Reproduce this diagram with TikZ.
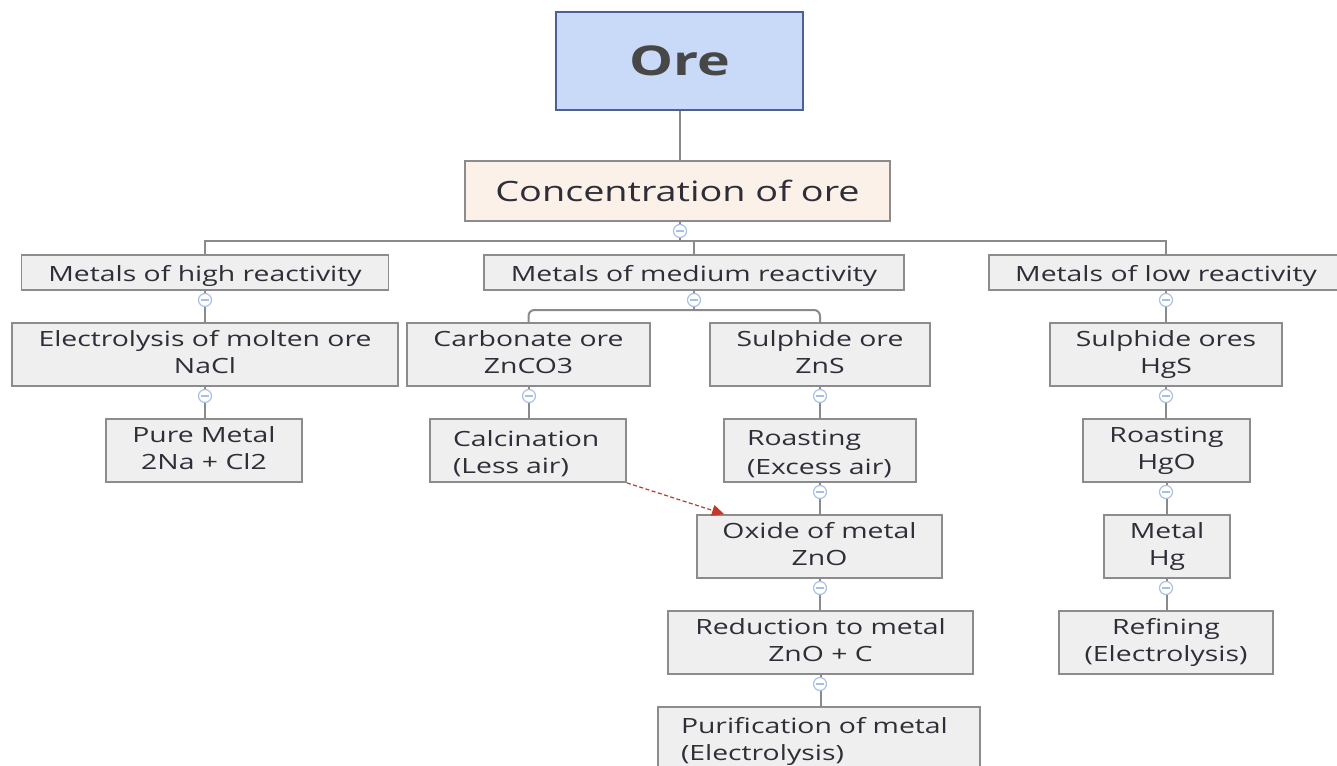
\documentclass[tikz,border=0pt]{standalone}
\usepackage{fontspec}
\setmainfont{Open Sans}[FakeStretch=1.35]
\usetikzlibrary{arrows.meta}
\definecolor{boxfill}{HTML}{EFEFEF}
\definecolor{boxdraw}{HTML}{8C8C8C}
\definecolor{orefill}{HTML}{C9DAF8}
\definecolor{oredraw}{HTML}{4F5F8F}
\definecolor{concfill}{HTML}{FCF1E8}
\definecolor{lin}{HTML}{8A8A8A}
\definecolor{togc}{HTML}{A9BFE6}
\definecolor{txt}{HTML}{2E2E38}
\definecolor{arr}{HTML}{C0392B}
\newcommand{\mylstrut}{\rule[-4pt]{0pt}{27pt}}
\newcommand{\twolines}[2]{\raisebox{-2pt}{\begin{tabular}{@{}c@{}}#1\\#2\end{tabular}}}
\begin{document}
\begin{tikzpicture}[x=1pt,y=-1pt,
 base/.style={draw=boxdraw, fill=boxfill, line width=1.8pt, inner sep=0pt, text=txt,
   font=\fontsize{21}{27}\selectfont},
 box/.style={base, minimum height=63pt},
 sbox/.style={base, minimum height=35pt, execute at begin node=\mylstrut, execute at end node=\mylstrut},
 lbox/.style={base, minimum height=63pt, align=left, inner xsep=23pt, execute at begin node=\mylstrut, execute at end node=\mylstrut},
 conn/.style={draw=lin, line width=2pt},
 toggle/.style={circle, draw=togc, fill=white, line width=1.2pt, minimum size=13pt, inner sep=0pt,
   path picture={\draw[togc, line width=1.2pt] ([xshift=-4pt]path picture bounding box.center) -- ([xshift=4pt]path picture bounding box.center);}}]
\useasboundingbox (0,0) rectangle (1337,765);
\clip (0,0) rectangle (1337,765);
% nodes
\node[draw=oredraw, fill=orefill, line width=1.8pt, minimum width=247pt, minimum height=98pt, text=black!72, font=\fontsize{41}{44}\selectfont\bfseries] (ore) at (679.5,61) {\raisebox{-2pt}{Ore}};
\node[base, fill=concfill, minimum width=425pt, minimum height=60pt, font=\fontsize{28}{30}\selectfont] (conc) at (677.5,191) {\raisebox{-1pt}{Concentration of ore}};
\node[sbox, minimum width=367pt] (hi) at (205,272.5) {Metals of high reactivity};
\node[sbox, minimum width=420pt] (med) at (694,272.5) {Metals of medium reactivity};
\node[sbox, minimum width=354pt] (lo) at (1166,272.5) {Metals of low reactivity};
% high
\node[box, minimum width=386pt] (elec) at (205,354.5) {\twolines{Electrolysis of molten ore}{NaCl}};
\node[box, minimum width=196pt] (pure) at (204,450.5) {\twolines{Pure Metal}{2Na + Cl2}};
% medium
\node[box, minimum width=243pt] (carb) at (528.5,354.5) {\twolines{Carbonate ore}{ZnCO3}};
\node[box, minimum width=220pt] (sulf) at (820,354.5) {\twolines{Sulphide ore}{ZnS}};
\node[lbox, text width=150pt] (calc) at (528,450.5) {Calcination\\(Less air)};
\node[lbox, text width=146pt] (roast) at (820,450.5) {Roasting\\(Excess air)};
\node[box, minimum width=245pt] (oxide) at (819.5,546.5) {\twolines{Oxide of metal}{ZnO}};
\node[box, minimum width=305pt] (red) at (820.5,642.5) {\twolines{Reduction to metal}{ZnO + C}};
\node[lbox, text width=276pt] (pur) at (819,738.5) {Purification of metal\\(Electrolysis)};
% low
\node[box, minimum width=232pt] (hgs) at (1166,354.5) {\twolines{Sulphide ores}{HgS}};
\node[box, minimum width=167pt] (hgo) at (1166.5,450.5) {\twolines{Roasting}{HgO}};
\node[box, minimum width=126pt] (hg) at (1167,546.5) {\twolines{Metal}{Hg}};
\node[box, minimum width=214pt] (ref) at (1166,642.5) {\twolines{Refining}{(Electrolysis)}};
% toggle positions
\coordinate (p0) at (680,231);
\coordinate (j0) at (680,241);
\coordinate (ph) at (205,300);
\coordinate (pm) at (694,300);
\coordinate (jm) at (694,310);
\coordinate (pl) at (1166,300);
\coordinate (pe) at (205,396);
\coordinate (pc) at (529,396);
\coordinate (ps) at (820,396);
\coordinate (pr) at (820,492);
\coordinate (po) at (820,588);
\coordinate (pd) at (820,684);
\coordinate (pg) at (1166,396);
\coordinate (pq) at (1166,492);
\coordinate (pk) at (1166,588);
% connectors
\draw[conn] (ore.south) -- (ore.south |- conc.north);
\draw[conn] (p0 |- conc.south) -- (j0);
\draw[conn] (j0) -| (hi.north);
\draw[conn] (j0) -| (med.north);
\draw[conn] (j0) -| (lo.north);
\draw[conn] (hi.south) -- (elec.north);
\draw[conn] (elec.south) -- (elec.south |- pure.north);
\draw[conn] (med.south) -- (jm);
\draw[conn, rounded corners=6pt] (jm) -| (carb.north);
\draw[conn, rounded corners=6pt] (jm) -| (sulf.north);
\draw[conn] (carb.south) -- (carb.south |- calc.north);
\draw[conn] (sulf.south) -- (roast.north);
\draw[conn] (roast.south) -- (roast.south |- oxide.north);
\draw[conn] (oxide.south) -- (oxide.south |- red.north);
\draw[conn] (red.south) -- (red.south |- pur.north);
\draw[conn] (lo.south) -- (lo.south |- hgs.north);
\draw[conn] (hgs.south) -- (hgs.south |- hgo.north);
\draw[conn] (hgo.south) -- (hgo.south |- hg.north);
\draw[conn] (hg.south) -- (hg.south |- ref.north);
% toggles
\foreach \p in {p0,ph,pm,pl,pe,pc,ps,pr,po,pd,pg,pq,pk}
  \node[toggle] (t\p) at (\p) {};
% dashed arrow
\draw[arr, line width=1.2pt, dash pattern=on 4pt off 2.5pt, -{Triangle[length=12pt,width=11pt]}] (calc.south east) -- ([xshift=28pt]oxide.north west);
\end{tikzpicture}
\end{document}
